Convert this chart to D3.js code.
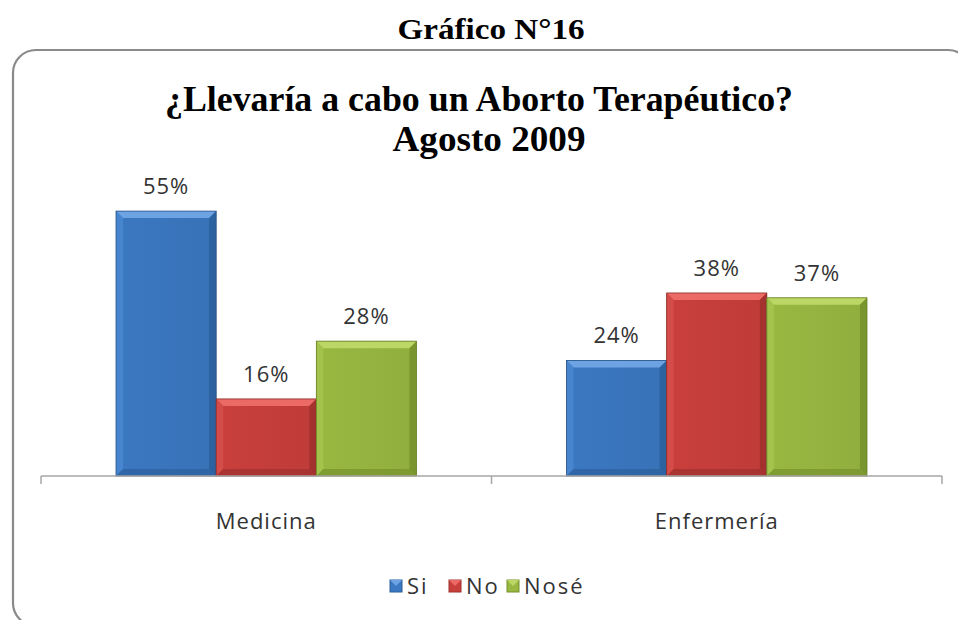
<!DOCTYPE html>
<html>
<head>
<meta charset="utf-8">
<script src="https://cdn.jsdelivr.net/npm/d3@7"></script>
<style>
  body { margin: 0; background: #fff; }
</style>
</head>
<body>
<div id="chart"></div>
<script>
  const categories = ["Medicina", "Enfermería"];
  const series = ["Si", "No", "Nosé"];
  const siValues = [55, 24];
  const noValues = [16, 38];
  const noseValues = [28, 37];
  const valuesBySeries = [siValues, noValues, noseValues];

  const width = 958, height = 620;
  const axisLeft = 41, axisRight = 942, baseY = 476, topY = 187;

  // colours per series: main, light (top bevel), side (left bevel), dark (right/bottom bevel)
  const palette = {
    "Si":   { main: "#3b78c1", light: "#6ea3e3", side: "#4785cf", dark: "#2c5f9c" },
    "No":   { main: "#c93f3c", light: "#ec6a66", side: "#d44c49", dark: "#9e302d" },
    "Nosé": { main: "#98b841", light: "#bcd766", side: "#a4c34c", dark: "#76922c" }
  };

  const svg = d3.select("#chart").append("svg")
    .attr("width", width)
    .attr("height", height)
    .style("font-family", "'Open Sans', 'Noto Sans', sans-serif");

  const defs = svg.append("defs");
  series.forEach((s, i) => {
    const g = defs.append("linearGradient")
      .attr("id", "grad" + i)
      .attr("x1", 0).attr("x2", 1).attr("y1", 0).attr("y2", 0);
    g.append("stop").attr("offset", "0%").attr("stop-color", palette[s].main);
    g.append("stop").attr("offset", "100%").attr("stop-color", d3.color(palette[s].main).darker(0.15));
  });

  // outer heading
  svg.append("text")
    .attr("x", 491).attr("y", 39)
    .attr("text-anchor", "middle")
    .attr("textLength", 187).attr("lengthAdjust", "spacingAndGlyphs")
    .style("font-family", "'Liberation Serif', 'DejaVu Serif', serif")
    .style("font-weight", "bold")
    .style("font-size", "29px")
    .attr("fill", "#000")
    .text("Gráfico N°16");

  // rounded frame
  svg.append("rect")
    .attr("x", 13).attr("y", 50)
    .attr("width", 958).attr("height", 576)
    .attr("rx", 23).attr("ry", 23)
    .attr("fill", "#fff")
    .attr("stroke", "#8a8a8a")
    .attr("stroke-width", 2.2);

  // chart title
  const title = svg.append("text")
    .attr("text-anchor", "middle")
    .style("font-family", "'Liberation Serif', 'DejaVu Serif', serif")
    .style("font-weight", "bold")
    .style("font-size", "35px")
    .attr("fill", "#000");
  title.append("tspan").attr("x", 479).attr("y", 111)
    .attr("textLength", 628).attr("lengthAdjust", "spacingAndGlyphs")
    .text("¿Llevaría a cabo un Aborto Terapéutico?");
  title.append("tspan").attr("x", 489).attr("y", 151)
    .attr("textLength", 193).attr("lengthAdjust", "spacingAndGlyphs")
    .text("Agosto 2009");

  const x0 = d3.scaleBand()
    .domain(categories)
    .range([axisLeft, axisRight])
    .paddingInner(0.333)
    .paddingOuter(0.1665);

  const x1 = d3.scaleBand()
    .domain(series)
    .range([0, x0.bandwidth()]);

  const y = d3.scaleLinear()
    .domain([0, 60])
    .range([baseY, topY]);

  const data = [];
  categories.forEach((c, ci) => {
    series.forEach((s, si) => {
      data.push({ category: c, series: s, si, value: valuesBySeries[si][ci] });
    });
  });

  const bev = 7;
  const bars = svg.append("g")
    .selectAll("g")
    .data(data)
    .join("g")
      .attr("transform", d => `translate(${x0(d.category) + x1(d.series)},0)`);

  bars.each(function(d) {
    const g = d3.select(this);
    const w = x1.bandwidth();
    const top = y(d.value), bot = y(0);
    const p = palette[d.series];
    g.append("rect")
      .attr("x", 0).attr("y", top)
      .attr("width", w).attr("height", bot - top)
      .attr("fill", `url(#grad${d.si})`);
    // bevel edges
    g.append("polygon")
      .attr("points", [[0, top], [w, top], [w - bev, top + bev], [bev, top + bev]].join(" "))
      .attr("fill", p.light);
    g.append("polygon")
      .attr("points", [[0, top], [bev, top + bev], [bev, bot - bev], [0, bot]].join(" "))
      .attr("fill", p.side);
    g.append("polygon")
      .attr("points", [[w, top], [w, bot], [w - bev, bot - bev], [w - bev, top + bev]].join(" "))
      .attr("fill", p.dark)
      .attr("opacity", 0.85);
    g.append("polygon")
      .attr("points", [[0, bot], [bev, bot - bev], [w - bev, bot - bev], [w, bot]].join(" "))
      .attr("fill", p.dark)
      .attr("opacity", 0.7);
    g.append("rect")
      .attr("x", 0).attr("y", top)
      .attr("width", w).attr("height", bot - top)
      .attr("fill", "none")
      .attr("stroke", d3.color(p.dark).darker(0.4))
      .attr("stroke-width", 0.8);
    g.append("text")
      .attr("x", w / 2).attr("y", top - 17)
      .attr("text-anchor", "middle")
      .style("font-size", "22px")
      .style("letter-spacing", "1px")
      .attr("fill", "#333")
      .text(d.value + "%");
  });

  // category axis
  const axis = svg.append("g")
    .attr("transform", `translate(0,${baseY})`);
  axis.append("line")
    .attr("x1", axisLeft).attr("x2", axisRight)
    .attr("stroke", "#a6a6a6").attr("stroke-width", 1.5);
  const tickXs = [axisLeft, ...categories.slice(1).map(c => x0(c) - x0.step() * x0.paddingInner() / 2), axisRight];
  axis.selectAll(".tick")
    .data(tickXs)
    .join("line")
      .attr("x1", d => d).attr("x2", d => d)
      .attr("y1", 0).attr("y2", 8)
      .attr("stroke", "#a6a6a6").attr("stroke-width", 1.5);
  axis.selectAll(".cat")
    .data(categories)
    .join("text")
      .attr("x", d => x0(d) + x0.bandwidth() / 2)
      .attr("y", 53)
      .attr("text-anchor", "middle")
      .style("font-size", "22px")
      .style("letter-spacing", "1px")
      .attr("fill", "#333")
      .text(d => d);

  // legend
  const legendX = [390, 449, 507];
  const legend = svg.append("g")
    .selectAll("g")
    .data(series)
    .join("g")
      .attr("transform", (d, i) => `translate(${legendX[i]},580)`);
  legend.append("rect")
    .attr("width", 12).attr("height", 12)
    .attr("fill", d => palette[d].main)
    .attr("stroke", d => palette[d].dark);
  legend.append("polygon")
    .attr("points", "0,0 12,0 6,6")
    .attr("fill", d => palette[d].light);
  legend.append("text")
    .attr("x", 17).attr("y", 14)
    .style("font-size", "22px")
    .style("letter-spacing", "2px")
    .attr("fill", "#333")
    .text(d => d);
</script>
</body>
</html>
